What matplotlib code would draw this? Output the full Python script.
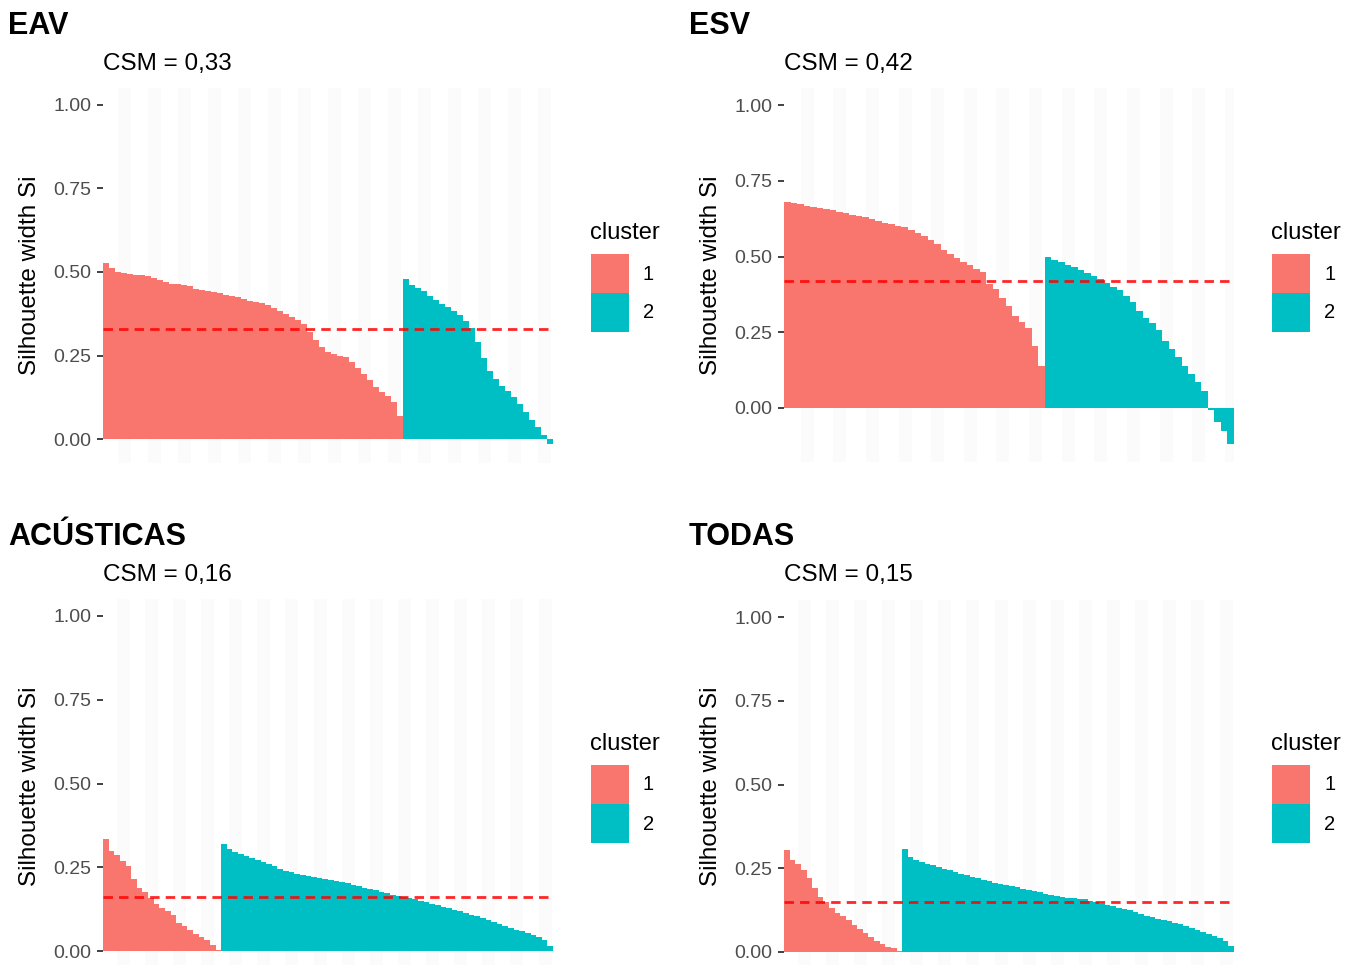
import matplotlib.pyplot as plt
from matplotlib.patches import Rectangle

plt.rcParams['font.family'] = ['Liberation Sans', 'DejaVu Sans']

# silhouette widths (sorted within cluster)
eav_c1 = [0.528, 0.512, 0.500, 0.497, 0.494, 0.492, 0.490, 0.488, 0.483, 0.477,
          0.470, 0.465, 0.463, 0.461, 0.457, 0.450, 0.445, 0.442, 0.440, 0.436,
          0.431, 0.427, 0.424, 0.419, 0.414, 0.410, 0.406, 0.400, 0.392, 0.382,
          0.374, 0.365, 0.357, 0.343, 0.320, 0.295, 0.275, 0.260, 0.254, 0.250,
          0.246, 0.230, 0.212, 0.196, 0.178, 0.155, 0.140, 0.128, 0.112, 0.070]
eav_c2 = [0.478, 0.462, 0.452, 0.442, 0.428, 0.416, 0.405, 0.396, 0.384, 0.370,
          0.352, 0.333, 0.290, 0.243, 0.205, 0.180, 0.160, 0.145, 0.127, 0.105,
          0.082, 0.058, 0.037, 0.012, -0.015]

esv_c1 = [0.680, 0.676, 0.673, 0.667, 0.663, 0.660, 0.657, 0.652, 0.647, 0.642,
          0.637, 0.633, 0.629, 0.624, 0.618, 0.612, 0.607, 0.601, 0.597, 0.588,
          0.578, 0.568, 0.556, 0.540, 0.523, 0.508, 0.494, 0.482, 0.472, 0.460,
          0.450, 0.410, 0.393, 0.362, 0.338, 0.305, 0.285, 0.265, 0.205, 0.140]
esv_c2 = [0.500, 0.490, 0.482, 0.473, 0.465, 0.457, 0.447, 0.435, 0.425, 0.414,
          0.400, 0.388, 0.370, 0.350, 0.320, 0.298, 0.280, 0.258, 0.220, 0.195,
          0.167, 0.140, 0.112, 0.085, 0.055, -0.005, -0.045, -0.075, -0.118]

acu_c1 = [0.333, 0.300, 0.288, 0.270, 0.255, 0.215, 0.188, 0.175, 0.158, 0.140,
          0.128, 0.118, 0.108, 0.085, 0.075, 0.064, 0.052, 0.042, 0.033, 0.018,
          0.004]
acu_c2 = [0.320, 0.305, 0.296, 0.290, 0.284, 0.279, 0.271, 0.265, 0.259, 0.253,
          0.246, 0.240, 0.235, 0.231, 0.228, 0.225, 0.222, 0.219, 0.216, 0.212,
          0.209, 0.205, 0.202, 0.196, 0.193, 0.189, 0.186, 0.182, 0.176, 0.172,
          0.168, 0.164, 0.161, 0.158, 0.154, 0.150, 0.146, 0.141, 0.136, 0.132,
          0.127, 0.122, 0.118, 0.113, 0.108, 0.103, 0.098, 0.093, 0.087, 0.081,
          0.075, 0.069, 0.064, 0.059, 0.054, 0.048, 0.042, 0.034, 0.014]

tod_c1 = [0.303, 0.275, 0.262, 0.245, 0.220, 0.190, 0.164, 0.148, 0.130, 0.115,
          0.107, 0.095, 0.080, 0.068, 0.058, 0.045, 0.034, 0.023, 0.016, 0.011,
          0.003]
tod_c2 = [0.307, 0.285, 0.276, 0.270, 0.264, 0.259, 0.254, 0.249, 0.244, 0.239,
          0.234, 0.229, 0.224, 0.220, 0.216, 0.211, 0.207, 0.203, 0.200, 0.196,
          0.193, 0.189, 0.186, 0.183, 0.179, 0.174, 0.171, 0.166, 0.164, 0.162,
          0.161, 0.159, 0.157, 0.153, 0.148, 0.143, 0.139, 0.136, 0.132, 0.128,
          0.124, 0.119, 0.114, 0.108, 0.103, 0.100, 0.097, 0.093, 0.088, 0.083,
          0.078, 0.073, 0.067, 0.060, 0.054, 0.048, 0.043, 0.034, 0.018]

titles = ['EAV', 'ESV', 'ACÚSTICAS', 'TODAS']
csm = [0.33, 0.42, 0.16, 0.15]
csm_text = ['0,33', '0,42', '0,16', '0,15']
clusters = [(eav_c1, eav_c2), (esv_c1, esv_c2), (acu_c1, acu_c2), (tod_c1, tod_c2)]
cluster_labels = ['1', '2']
colors = ['#F8766D', '#00BFC4']

W, H = 1348, 965
fig = plt.figure(figsize=(W / 100, H / 100), dpi=100)

# layout in pixels: left, right, top, bottom, y of 0, y of 1, panel x offset, row y offset
layout = [
    (103, 553, 88, 463, 439, 105, 0, 0),
    (784, 1234, 88, 462, 408, 105, 681, 0),
    (103, 553, 599, 965, 951, 616, 0, 511),
    (784, 1234, 600, 965, 952, 617, 681, 511),
]


def fx(x):
    return x / W


def fy(y):
    return 1 - y / H


for k in range(4):
    l, r, t, b, y0, y1, dx, dy = layout[k]
    ax = fig.add_axes([fx(l), fy(b), (r - l) / W, (b - t) / H])
    c1, c2 = clusters[k]
    vals = c1 + c2
    cols = [colors[0]] * len(c1) + [colors[1]] * len(c2)
    xs = list(range(len(vals)))
    ax.bar(xs, vals, width=1.02, color=cols, linewidth=0, antialiased=False, zorder=2)
    ax.axhline(csm[k], color='red', linestyle=(0, (3.4, 2.2)), linewidth=2.0,
               alpha=0.85, zorder=3)
    ax.set_xlim(-0.5, len(vals) - 0.5)
    s = y0 - y1
    ax.set_ylim(-(b - y0) / s, 1 + (y1 - t) / s)
    ax.set_yticks([0, 0.25, 0.5, 0.75, 1.0])
    ax.set_yticklabels(['0.00', '0.25', '0.50', '0.75', '1.00'])
    ax.set_xticks(xs[3::5])
    ax.set_xticklabels([])
    ax.tick_params(axis='x', length=0)
    ax.tick_params(axis='y', length=4.3, width=1.3, color='#333333', pad=4.3,
                   labelsize=14, labelcolor='#4D4D4D')
    ax.grid(axis='x', color='#fbfbfb', linewidth=9, zorder=0)
    ax.grid(axis='y', visible=False)
    for sp in ax.spines.values():
        sp.set_visible(False)

    # titles
    fig.text(fx(8 + dx), fy(34 + dy), titles[k], fontsize=22, fontweight='bold',
             ha='left', va='baseline')
    fig.text(fx(l), fy(70 + dy), 'CSM = ' + csm_text[k], fontsize=17.5,
             ha='left', va='baseline')
    fig.text(fx(30 + dx), fy((t + b) / 2 if k < 2 else 786), 'Silhouette width Si',
             fontsize=17.5, rotation=90, ha='center', va='center')

    # legend
    fig.text(fx(590 + dx), fy(239 + dy), 'cluster', fontsize=17, ha='left', va='baseline')
    for j in range(2):
        top = 254 + dy + j * 39
        fig.add_artist(Rectangle((fx(591 + dx), fy(top + 39)), 38 / W, 39 / H,
                                 transform=fig.transFigure, facecolor=colors[j],
                                 edgecolor='none'))
        fig.text(fx(643 + dx), fy(top + 20), cluster_labels[j], fontsize=14.5,
                 ha='left', va='center')

fig.savefig('out.png', dpi=100)
